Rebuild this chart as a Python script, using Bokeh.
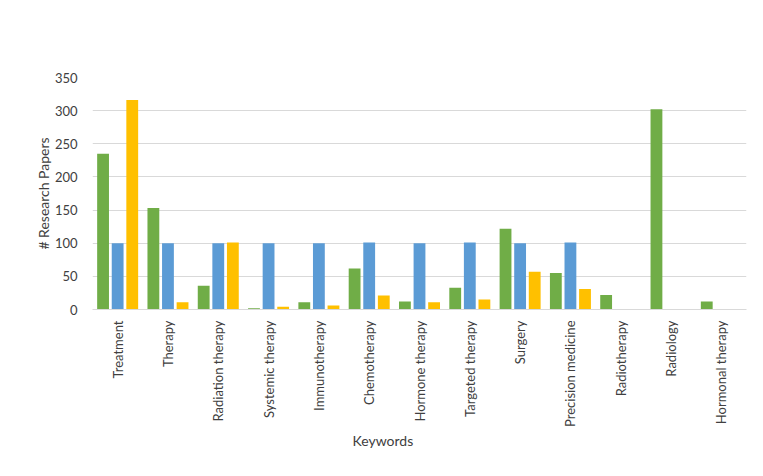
import math
from bokeh.plotting import figure
from bokeh.models import FactorRange, ColumnDataSource, Legend, LegendItem, Title, FixedTicker
from bokeh.transform import dodge
from bokeh.embed import file_html
from bokeh.resources import INLINE

categories = ["Treatment", "Therapy", "Radiation therapy", "Systemic therapy",
              "Immunotherapy", "Chemotherapy", "Hormone therapy", "Targeted therapy",
              "Surgery", "Precision medicine", "Radiotherapy", "Radiology",
              "Hormonal therapy"]
pubmed = [235, 153, 36, 2, 11, 62, 12, 33, 122, 55, 22, 302, 12]
google_scholar = [100, 100, 100, 100, 100, 101, 100, 101, 100, 101, 0, 0, 0]
scopus = [316, 11, 101, 4, 6, 21, 11, 15, 57, 31, 0, 0, 0]
y_ticks = [0, 50, 100, 150, 200, 250, 300, 350]

FONT = "Lato"
TXT = "#404040"

src = ColumnDataSource(dict(cat=categories, pubmed=pubmed, gs=google_scholar, scopus=scopus))

p = figure(x_range=FactorRange(*categories), y_range=(0, 350),
           frame_width=654, frame_height=232, output_backend="svg", toolbar_location=None,
           min_border_left=92, min_border_right=1, min_border_top=77, min_border_bottom=0)

w = 0.235
r1 = p.vbar(x=dodge("cat", -0.29, range=p.x_range), top="pubmed", width=w, source=src,
            fill_color="#70AD47", line_color=None)
r2 = p.vbar(x=dodge("cat", 0.0, range=p.x_range), top="gs", width=w, source=src,
            fill_color="#5B9BD5", line_color=None)
r3 = p.vbar(x=dodge("cat", 0.29, range=p.x_range), top="scopus", width=w, source=src,
            fill_color="#FFC000", line_color=None)

p.outline_line_color = None
p.xgrid.grid_line_color = None
p.ygrid.grid_line_color = "#d9d9d9"
p.ygrid.grid_line_width = 1
p.yaxis.ticker = FixedTicker(ticks=y_ticks)

p.yaxis.axis_line_color = None
p.yaxis.major_tick_line_color = None
p.yaxis.minor_tick_line_color = None
p.yaxis.major_label_text_font = FONT
p.yaxis.major_label_text_font_size = "13px"
p.yaxis.major_label_text_color = TXT
p.yaxis.major_label_standoff = 9
p.yaxis.axis_label = "# Research Papers"
p.yaxis.axis_label_text_font = FONT
p.yaxis.axis_label_text_font_size = "14px"
p.yaxis.axis_label_text_font_style = "normal"
p.yaxis.axis_label_text_color = TXT
p.yaxis.axis_label_standoff = 0

p.xaxis.axis_line_color = "#d9d9d9"
p.xaxis.major_tick_line_color = None
p.xaxis.minor_tick_line_color = None
p.xaxis.major_label_orientation = math.pi / 2
p.xaxis.major_label_text_font = FONT
p.xaxis.major_label_text_font_size = "13px"
p.xaxis.major_label_text_color = TXT
p.xaxis.major_label_standoff = 5

kw = Title(text="Keywords", align="left", offset=260, standoff=0,
           text_font=FONT, text_font_size="14px", text_font_style="normal",
           text_color=TXT)
p.add_layout(kw, "below")

legend = Legend(items=[LegendItem(label="Pubmed", renderers=[r1]),
                       LegendItem(label="Google Scholar", renderers=[r2]),
                       LegendItem(label="Scopus", renderers=[r3])],
                location="top_center", orientation="horizontal",
                padding=0, margin=0, spacing=25, glyph_width=8, glyph_height=8,
                label_height=16, label_standoff=7, label_text_font=FONT,
                label_text_font_size="14px", label_text_color=TXT,
                background_fill_alpha=0, border_line_color=None)
p.add_layout(legend, "below")

open("out.html", "w").write(file_html(p, INLINE))
